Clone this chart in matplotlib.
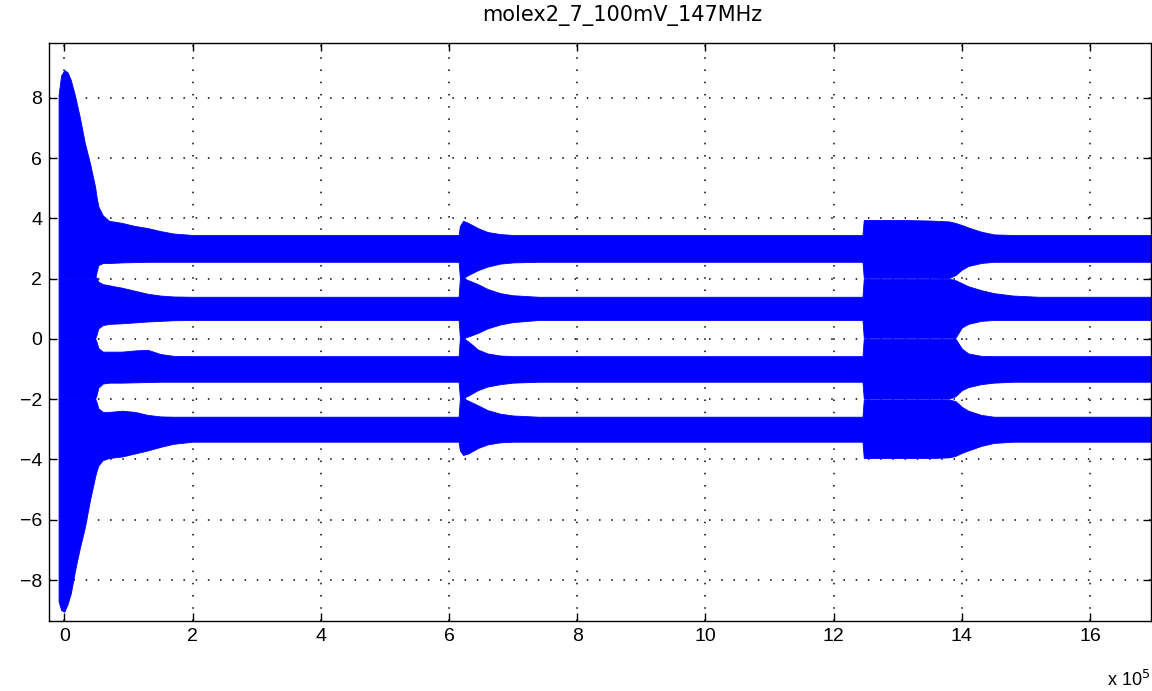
import numpy as np
import matplotlib
matplotlib.use("Agg")
import matplotlib.pyplot as plt

plt.rcParams['font.family'] = ['Liberation Sans', 'DejaVu Sans']

x_pts = [-0.09, -0.05, 0.0, 0.05, 0.1, 0.17, 0.24, 0.32, 0.4, 0.48,
         0.5, 0.53, 0.6, 0.7, 0.9, 1.1, 1.3, 1.5, 1.7, 2.0,
         6.15, 6.17, 6.22, 6.3, 6.45, 6.6, 6.8, 7.0, 7.4, 8.0,
         12.45, 12.47, 13.0, 13.5, 13.8, 13.9, 14.0, 14.1, 14.3, 14.5,
         14.8, 15.2, 17.0]

# outer envelope of the signal
outer_top = [8.1, 8.75, 8.92, 8.85, 8.6, 8.04, 7.37, 6.5, 5.83, 5.05,
             4.75, 4.4, 4.1, 3.92, 3.85, 3.75, 3.68, 3.58, 3.5, 3.45,
             3.45, 3.75, 3.92, 3.85, 3.68, 3.55, 3.48, 3.45, 3.45, 3.45,
             3.45, 3.95, 3.95, 3.93, 3.9, 3.85, 3.78, 3.7, 3.56, 3.47,
             3.45, 3.45, 3.45]
outer_bot = [-8.7, -9.0, -9.05, -8.8, -8.45, -7.65, -6.95, -6.25, -5.35, -4.57,
             -4.4, -4.2, -4.02, -3.95, -3.9, -3.8, -3.7, -3.58, -3.48, -3.41,
             -3.41, -3.7, -3.85, -3.8, -3.62, -3.5, -3.43, -3.41, -3.41, -3.41,
             -3.41, -3.95, -3.95, -3.95, -3.93, -3.88, -3.78, -3.7, -3.55, -3.45,
             -3.41, -3.41, -3.41]

# white gaps between the four levels (upper / lower edge)
gap1_hi = [2.0] * 10 + [2.2, 2.45, 2.52, 2.52, 2.54, 2.55, 2.56, 2.56, 2.56, 2.56,
           2.56, 2.02, 2.02, 2.12, 2.28, 2.4, 2.5, 2.54, 2.56, 2.56,
           2.56, 2.03, 2.03, 2.03, 2.02, 2.12, 2.3, 2.42, 2.52, 2.56,
           2.56, 2.56, 2.56]
gap1_lo = [2.0] * 10 + [2.05, 1.9, 1.82, 1.78, 1.7, 1.6, 1.5, 1.44, 1.41, 1.40,
           1.40, 2.02, 2.02, 1.95, 1.82, 1.66, 1.52, 1.45, 1.40, 1.40,
           1.40, 2.0, 2.0, 2.0, 2.0, 1.95, 1.85, 1.75, 1.62, 1.52,
           1.44, 1.40, 1.40]
gap2_hi = [0.02] * 10 + [0.12, 0.35, 0.46, 0.5, 0.52, 0.55, 0.58, 0.6, 0.62, 0.63,
           0.63, 0.03, 0.03, 0.08, 0.2, 0.35, 0.48, 0.56, 0.63, 0.63,
           0.63, 0.04, 0.04, 0.04, 0.04, 0.04, 0.38, 0.5, 0.6, 0.63,
           0.63, 0.63, 0.63]
gap2_lo = [0.02] * 10 + [-0.08, -0.3, -0.42, -0.42, -0.42, -0.38, -0.36, -0.5, -0.56, -0.57,
           -0.57, 0.03, 0.03, -0.08, -0.35, -0.48, -0.55, -0.57, -0.57, -0.57,
           -0.57, 0.01, 0.01, 0.01, 0.01, 0.01, -0.32, -0.48, -0.56, -0.57,
           -0.57, -0.57, -0.57]
gap3_hi = [-1.98] * 10 + [-1.88, -1.62, -1.48, -1.45, -1.45, -1.44, -1.43, -1.42, -1.42, -1.42,
           -1.42, -1.96, -1.96, -1.88, -1.7, -1.58, -1.5, -1.45, -1.42, -1.42,
           -1.42, -1.98, -1.98, -1.98, -1.98, -1.9, -1.7, -1.6, -1.5, -1.45,
           -1.42, -1.42, -1.42]
gap3_lo = [-1.98] * 10 + [-2.08, -2.3, -2.42, -2.42, -2.38, -2.42, -2.52, -2.57, -2.58, -2.58,
           -2.58, -1.96, -1.96, -2.05, -2.2, -2.36, -2.48, -2.54, -2.58, -2.58,
           -2.58, -2.01, -2.01, -2.01, -2.01, -2.06, -2.25, -2.38, -2.52, -2.58,
           -2.58, -2.58, -2.58]

x_ticks = [0, 2, 4, 6, 8, 10, 12, 14, 16]
y_ticks = [-8, -6, -4, -2, 0, 2, 4, 6, 8]
title = "molex2_7_100mV_147MHz"

fig = plt.figure(figsize=(11.52, 6.91), dpi=100)
ax = fig.add_axes([0.0425, 0.1017, 0.9566, 0.8356])

x = np.array(x_pts)
bands = [(gap1_hi, outer_top), (gap2_hi, gap1_lo), (gap3_hi, gap2_lo), (outer_bot, gap3_lo)]
for lo, hi in bands:
    ax.fill_between(x, lo, hi, facecolor='#0000ff', edgecolor='#0000ff',
                    linewidth=0.6, zorder=2)

ax.set_xlim(-0.24, 16.95)
ax.set_ylim(-9.35, 9.81)
ax.set_xticks(x_ticks)
ax.set_yticks(y_ticks)
ax.set_axisbelow(True)
ax.grid(True, color='black', linestyle=(0, (1, 7)), linewidth=1.1)
ax.tick_params(direction='in', length=6, width=1.0, top=True, right=True,
               labelsize=14, pad=5)
for s in ax.spines.values():
    s.set_linewidth(1.0)

fig.text(622 / 1152, 1 - 16 / 691, title, ha='center', va='center',
         fontsize=15, family=['DejaVu Sans'])
fig.text(1150 / 1152, 1 - 680 / 691, r'x 10$^5$', ha='right', va='center', fontsize=13)

fig.savefig("out.png", dpi=100)
